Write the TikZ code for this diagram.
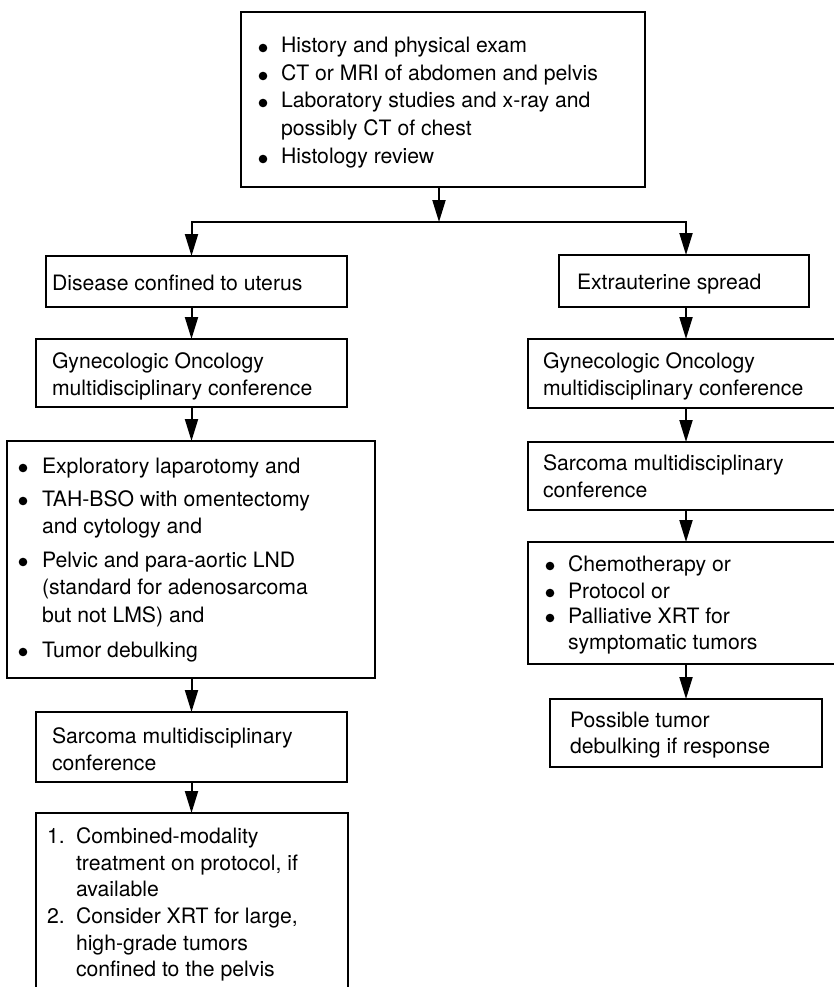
\documentclass[tikz,border=0pt]{standalone}
\usepackage{fontspec}
\setmainfont{TeX Gyre Heros}
\usetikzlibrary{arrows.meta,calc}
\begin{document}
\begin{tikzpicture}[x=1pt,y=-1pt,
  box/.style={draw=black,line width=2pt,rectangle,inner sep=0pt,outer sep=0pt,anchor=north west},
  txt/.style={inner sep=0pt,outer sep=0pt,anchor=base west,font=\fontsize{21.2}{27}\selectfont},
  arr/.style={line width=2pt,-{Triangle[length=22pt,width=13pt]}},
  dot/.style={fill=black}]
\useasboundingbox (0,0) rectangle (834,987);
\clip (0,0) rectangle (834,987);
% boxes
\node[box,minimum width=404pt,minimum height=175pt] (top) at (241,12) {};
\node[box,minimum width=301pt,minimum height=51pt] (dis) at (46,256) {};
\node[box,minimum width=250pt,minimum height=52pt] (ext) at (559,255) {};
\node[box,minimum width=311pt,minimum height=68pt] (gynl) at (36,339) {};
\node[box,minimum width=316pt,minimum height=69pt] (gynr) at (528,339) {};
\node[box,minimum width=368pt,minimum height=237pt] (big) at (7,441) {};
\node[box,minimum width=316pt,minimum height=68pt] (srr) at (528,442) {};
\node[box,minimum width=316pt,minimum height=122pt] (chemo) at (528,542) {};
\node[box,minimum width=272pt,minimum height=68pt] (poss) at (550,699) {};
\node[box,minimum width=311pt,minimum height=70pt] (srl) at (36,712) {};
\node[box,minimum width=312pt,minimum height=190pt] (fin) at (36,813) {};
% top box text
\foreach \yy in {53,81,108,164} \fill[dot] (263,\yy-5) circle (4.3pt);
\node[txt] (t1) at (281,53) {History and physical exam};
\node[txt] (t2) at (281,81) {CT or MRI of abdomen and pelvis};
\node[txt] (t3) at (281,108) {Laboratory studies and x-ray and};
\node[txt] (t4) at (281,136) {possibly CT of chest};
\node[txt] (t5) at (281,164) {Histology review};
% left column
\node[txt] (d1) at (52,290) {Disease confined to uterus};
\node[txt] (gl1) at (52,368) {Gynecologic Oncology};
\node[txt] (gl2) at (52,395) {multidisciplinary conference};
\foreach \yy in {473,506,567,657} \fill[dot] (23,\yy-5) circle (4.3pt);
\node[txt] (b1) at (42,473) {Exploratory laparotomy and};
\node[txt] (b2) at (42,506) {TAH-BSO with omentectomy};
\node[txt] (b3) at (42,533) {and cytology and};
\node[txt] (b4) at (42,567) {Pelvic and para-aortic LND};
\node[txt] (b5) at (42,594) {(standard for adenosarcoma};
\node[txt] (b6) at (42,622) {but not LMS) and};
\node[txt] (b7) at (42,657) {Tumor debulking};
\node[txt] (sl1) at (52,743) {Sarcoma multidisciplinary};
\node[txt] (sl2) at (52,770) {conference};
\node[txt] (n1) at (47,843) {1.};
\node[txt] (f1) at (76,843) {Combined-modality};
\node[txt] (f2) at (76,870) {treatment on protocol, if};
\node[txt] (f3) at (76,896) {available};
\node[txt] (n2) at (47,923) {2.};
\node[txt] (f4) at (76,923) {Consider XRT for large,};
\node[txt] (f5) at (76,950) {high-grade tumors};
\node[txt] (f6) at (76,976) {confined to the pelvis};
% right column
\node[txt] (e1) at (577,289) {Extrauterine spread};
\node[txt] (gr1) at (543,368) {Gynecologic Oncology};
\node[txt] (gr2) at (543,395) {multidisciplinary conference};
\node[txt] (sr1) at (543,470) {Sarcoma multidisciplinary};
\node[txt] (sr2) at (543,497) {conference};
\foreach \yy in {571,598,623} \fill[dot] (550,\yy-5) circle (4.3pt);
\node[txt] (c1) at (568,571) {Chemotherapy or};
\node[txt] (c2) at (568,598) {Protocol or};
\node[txt] (c3) at (568,623) {Palliative XRT for};
\node[txt] (c4) at (568,649) {symptomatic tumors};
\node[txt] (p1) at (570,727) {Possible tumor};
\node[txt] (p2) at (570,753) {debulking if response};
% connectors
\coordinate (split) at (439,222);
\draw[arr] (top.south -| split) -- (split);
\draw[arr] (split) -| (gynl.north |- dis.north);
\draw[arr] (split) -| (gynr.north |- ext.north);
\draw[arr] (dis.south -| gynl.north) -- (gynl.north);
\draw[arr] (gynl.south) -- (big.north -| gynl.south);
\draw[arr] (big.south -| srl.north) -- (srl.north);
\draw[arr] (srl.south) -- (fin.north -| srl.south);
\draw[arr] (ext.south -| gynr.north) -- (gynr.north);
\draw[arr] (gynr.south) -- (srr.north);
\draw[arr] (srr.south) -- (chemo.north);
\draw[arr] (chemo.south) -- (poss.north);
\end{tikzpicture}
\end{document}
